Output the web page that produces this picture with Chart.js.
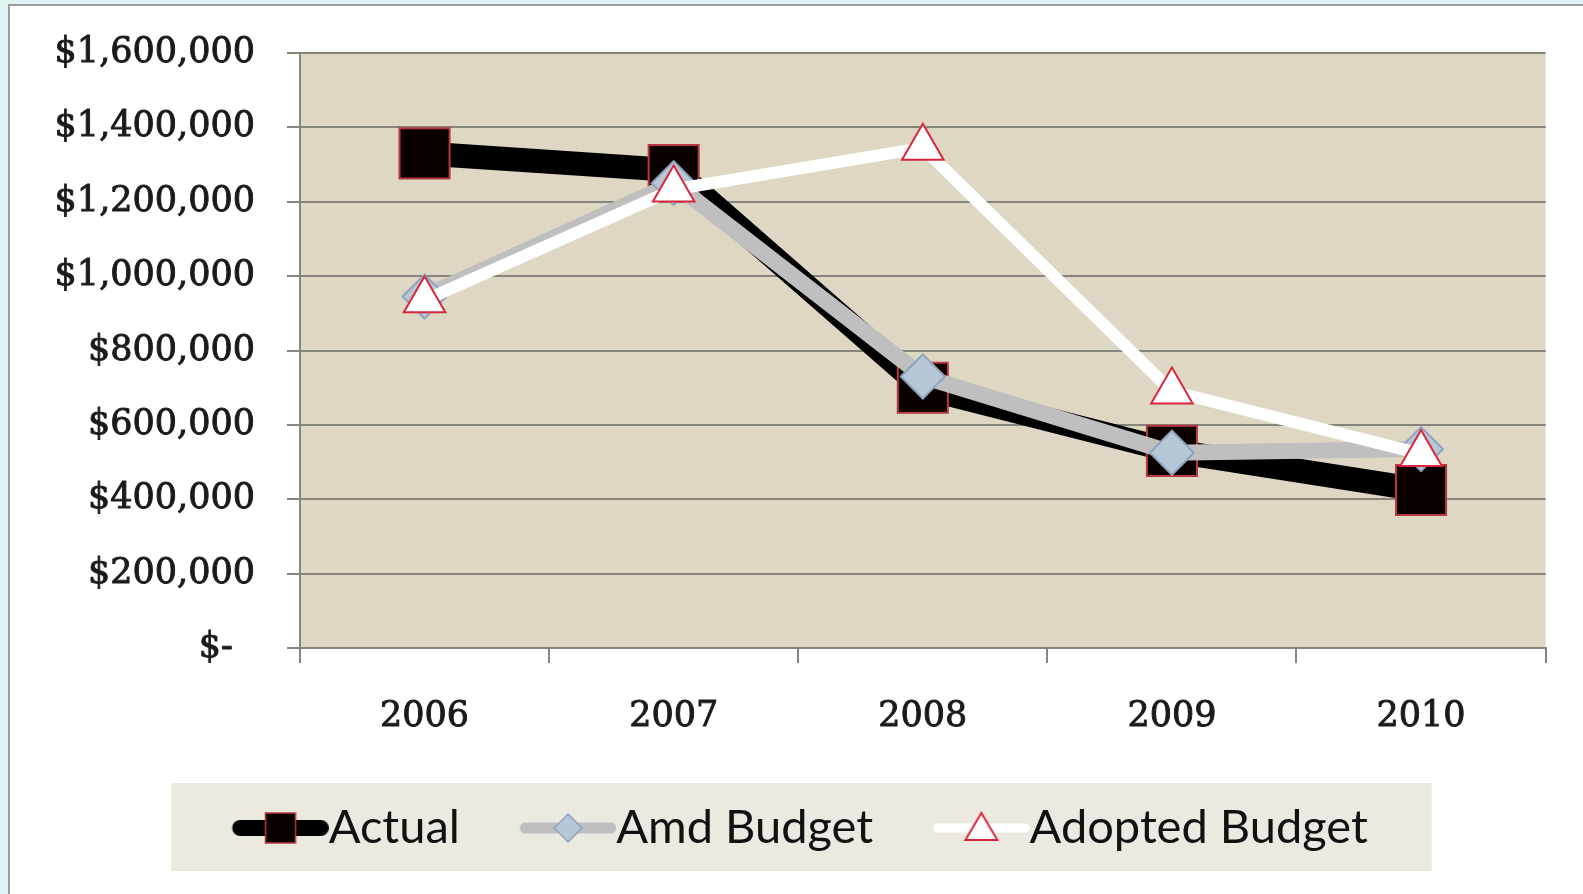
<!DOCTYPE html>
<html><head><meta charset="utf-8">
<script src="https://cdn.jsdelivr.net/npm/chart.js@4.4.0/dist/chart.umd.min.js"></script>
<style>
html,body{margin:0;padding:0;background:#dff4f3;overflow:hidden;width:1583px;height:894px;}
#panel{position:absolute;left:8px;top:4px;width:1640px;height:960px;background:#fff;border:2px solid #9c9c9c;box-sizing:border-box;}
#c{position:absolute;left:0;top:0;}
</style></head><body>
<div id="panel"></div>
<canvas id="c" width="1583" height="894"></canvas>
<script>
// ---- data ----
const categories = ['2006', '2007', '2008', '2009', '2010'];
const actual = [1330000, 1285000, 700000, 530000, 425000];
const amdBudget = [945000, 1250000, 730000, 525000, 535000];
const adoptedBudget = [935000, 1233000, 1345000, 690000, 522000];
const yTickValues = [0, 200000, 400000, 600000, 800000, 1000000, 1200000, 1400000, 1600000];
const seriesNames = ['Actual', 'Amd Budget', 'Adopted Budget'];

// ---- style ----
const LEG_FS = 47;
const LEG_PAD = 60;
const BOXW = 73;
const TICK_FONT = {family: 'DejaVu Serif', size: 35};
const GRID = '#85857d';

function makeSample(kind) {
  const W = BOXW + LEG_FS, H = 50;
  const c = document.createElement('canvas');
  c.width = W; c.height = H;
  const g = c.getContext('2d');
  const x0 = LEG_FS / 2, x1 = W, cy = H / 2, mid = (x0 + x1) / 2;
  g.lineCap = 'round';
  let lw, col;
  if (kind === 0) { lw = 16; col = '#000000'; }
  else if (kind === 1) { lw = 11; col = '#bfbfbf'; }
  else { lw = 9; col = '#ffffff'; }
  g.strokeStyle = col; g.lineWidth = lw;
  g.beginPath(); g.moveTo(x0 + lw / 2, cy); g.lineTo(x1 - lw / 2, cy); g.stroke();
  if (kind === 0) {
    g.fillStyle = '#0a0000'; g.fillRect(mid - 15, cy - 15, 30, 30);
    g.strokeStyle = '#b8383d'; g.lineWidth = 1.5; g.strokeRect(mid - 15, cy - 15, 30, 30);
  } else if (kind === 1) {
    g.beginPath(); g.moveTo(mid, cy - 14); g.lineTo(mid + 14, cy); g.lineTo(mid, cy + 14); g.lineTo(mid - 14, cy); g.closePath();
    g.fillStyle = '#b7c7d6'; g.fill(); g.strokeStyle = '#8ea5bd'; g.lineWidth = 1.5; g.stroke();
  } else {
    g.beginPath(); g.moveTo(mid, cy - 15); g.lineTo(mid + 16, cy + 12); g.lineTo(mid - 16, cy + 12); g.closePath();
    g.fillStyle = '#ffffff'; g.fill(); g.strokeStyle = '#d9263c'; g.lineWidth = 2; g.stroke();
  }
  return c;
}
const samples = [makeSample(0), makeSample(1), makeSample(2)];

const bgPlugin = {
  id: 'bg',
  beforeDraw(chart) {
    const ctx = chart.ctx, a = chart.chartArea;
    ctx.save();
    ctx.fillStyle = '#ddd7c3';
    ctx.fillRect(a.left, a.top, a.right - a.left, a.bottom - a.top);
    const hb = chart.legend && chart.legend.legendHitBoxes;
    if (hb && hb.length) {
      const x0 = hb[0].left, last = hb[hb.length - 1];
      const x1 = last.left + last.width;
      const cy = hb[0].top + hb[0].height / 2;
      ctx.fillStyle = '#ebe9e0';
      ctx.fillRect(x0 - 61, cy - 45, (x1 - x0) + 61 + 64, 88);
    }
    ctx.restore();
  }
};

new Chart(document.getElementById('c'), {
  type: 'line',
  data: {
    labels: categories,
    datasets: [
      {
        label: seriesNames[0], data: actual, order: 3,
        borderColor: '#000000', borderWidth: 24, borderJoinStyle: 'round', borderCapStyle: 'round',
        pointStyle: 'rect', pointRadius: 35.4, pointHoverRadius: 35.4,
        pointBackgroundColor: '#0a0000', pointBorderColor: '#b8383d', pointBorderWidth: 2,
        tension: 0, clip: false
      },
      {
        label: seriesNames[1], data: amdBudget, order: 2,
        borderColor: '#bfbfbf', borderWidth: 16, borderJoinStyle: 'round', borderCapStyle: 'round',
        pointStyle: 'rectRot', pointRadius: 22, pointHoverRadius: 22,
        pointBackgroundColor: '#b7c7d6', pointBorderColor: '#8ea5bd', pointBorderWidth: 2,
        tension: 0, clip: false
      },
      {
        label: seriesNames[2], data: adoptedBudget, order: 1,
        borderColor: '#ffffff', borderWidth: 12, borderJoinStyle: 'round', borderCapStyle: 'round',
        pointStyle: 'triangle', pointRadius: 24, pointHoverRadius: 24,
        pointBackgroundColor: '#ffffff', pointBorderColor: '#d9263c', pointBorderWidth: 2,
        tension: 0, clip: false
      }
    ]
  },
  options: {
    responsive: false,
    animation: false,
    devicePixelRatio: 1,
    events: [],
    layout: {padding: {top: 50, left: 51, right: 34, bottom: 32.5}},
    scales: {
      x: {
        offset: true,
        grid: {offset: true, drawOnChartArea: false, drawTicks: true, tickLength: 15, color: GRID, lineWidth: 2},
        border: {display: true, color: GRID, width: 2},
        ticks: {font: TICK_FONT, color: '#1a1a1a', padding: 33, maxRotation: 0, autoSkip: false,
                textStrokeColor: '#1a1a1a', textStrokeWidth: 0.9},
        afterFit(s) { s.height = 96.5; }
      },
      y: {
        min: 0, max: 1600000,
        grid: {color: GRID, lineWidth: 2, drawTicks: true, tickLength: 13},
        border: {display: true, color: GRID, width: 2},
        afterBuildTicks(s) { s.ticks = yTickValues.map(v => ({value: v})); },
        ticks: {
          font: TICK_FONT, color: '#1a1a1a', padding: 32,
          textStrokeColor: '#1a1a1a', textStrokeWidth: 0.9,
          callback: v => v === 0 ? '$-  ' : '$' + Number(v).toLocaleString('en-US')
        },
        afterFit(s) { s.width = 249; }
      }
    },
    plugins: {
      tooltip: {enabled: false},
      title: {display: false},
      legend: {
        display: true,
        position: 'bottom',
        labels: {
          usePointStyle: true,
          pointStyleWidth: BOXW,
          padding: LEG_PAD,
          color: '#111111',
          font: {family: 'Lato', size: LEG_FS},
          generateLabels: () => seriesNames.map((name, i) => ({
            text: name, pointStyle: samples[i], fillStyle: 'rgba(0,0,0,0)',
            strokeStyle: 'rgba(0,0,0,0)', lineWidth: 0, hidden: false, datasetIndex: i, fontColor: '#111111'
          }))
        }
      }
    }
  },
  plugins: [bgPlugin]
});
</script>
</body></html>
